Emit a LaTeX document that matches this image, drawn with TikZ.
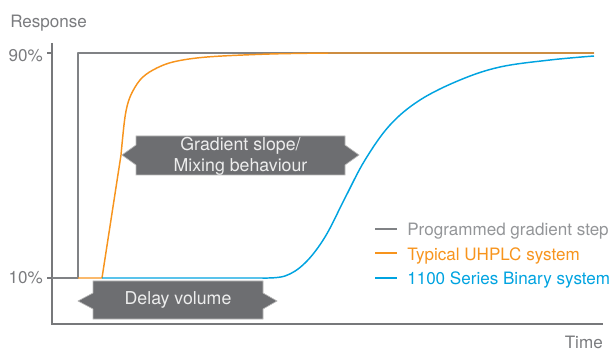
\documentclass[tikz,border=0pt]{standalone}
\usepackage{fontspec}
\setmainfont{TeX Gyre Heros}

\definecolor{axisgray}{HTML}{77787B}
\definecolor{stepgray}{HTML}{808285}
\definecolor{labelgray}{HTML}{7A7B7E}
\definecolor{leggray}{HTML}{939598}
\definecolor{uhplc}{HTML}{F7941D}
\definecolor{binary}{HTML}{00A3E0}
\definecolor{boxgray}{HTML}{6D6E71}
\definecolor{boxtext}{HTML}{EDEDED}

\tikzset{
  lbl/.style={inner sep=0pt, font=\fontsize{12.8}{15}\selectfont},
  boxlbl/.style={inner sep=0pt, align=center, text=boxtext,
    font=\fontsize{13.3}{15.5}\selectfont},
  arrowbox/.style={fill=boxgray, draw=gray!55, line width=0.5pt},
  curve/.style={line width=1.1pt, line join=round}
}

\begin{document}
\begin{tikzpicture}[x=0.75pt,y=-0.75pt]
\useasboundingbox (0,0) rectangle (613,352);

% axes
\draw[axisgray, line width=1.4pt] (52,43) -- (52,324) -- (603,324);
\draw[axisgray, line width=1.1pt] (47,53) -- (52,53);
\draw[axisgray, line width=1.1pt] (47,278) -- (52,278);

\node[lbl, text=labelgray, anchor=base west] (resp) at (10,28) {Response};
\node[lbl, text=labelgray, anchor=base east] (top) at (43,62) {90\%};
\node[lbl, text=labelgray, anchor=base east] (low) at (43,283) {10\%};
\node[lbl, text=labelgray, anchor=base east] (time) at (603,348) {Time};

% programmed step
\draw[stepgray, curve] (52,278) -- (78,278) -- (78,53) -- (594,53);

% typical UHPLC
\draw[uhplc, curve] (78,278) -- (102,278) -- (121,155)
  plot[smooth, tension=0.55] coordinates {(121,155) (125,117) (130,97)
  (140,80) (153,70) (173,62) (207,57) (270,54) (330,53)} -- (594,53);

% 1100 series binary
\draw[binary, curve] (102,278) -- (262,278)
  plot[smooth, tension=0.6] coordinates {(262,278) (285,276) (305,263)
  (325,237) (345,198) (365,160) (390,125) (420,100) (460,80) (500,67)
  (550,60) (594,56)};

% gradient slope box
\draw[arrowbox] (136,136) -- (345,136) -- (345,145) -- (359,155)
  -- (345,165) -- (345,175) -- (136,175) -- (136,165) -- (122,155)
  -- (136,145) -- cycle;
\node[boxlbl] (slope) at (240.5,156) {Gradient slope/\\Mixing behaviour};

% delay volume box
\draw[arrowbox] (93,281) -- (263,281) -- (263,293) -- (277,301)
  -- (263,309) -- (263,319) -- (93,319) -- (93,309) -- (78,301)
  -- (93,293) -- cycle;
\node[boxlbl] (delay) at (178,300) {Delay volume};

% legend
\draw[stepgray, line width=0.9pt] (375,229) -- (397,229);
\draw[uhplc, line width=0.9pt] (375,253) -- (397,253);
\draw[binary, line width=0.9pt] (375,278) -- (397,278);
\node[lbl, text=leggray, anchor=base west] (leg1) at (407,236) {Programmed gradient step};
\node[lbl, text=uhplc, anchor=base west] (leg2) at (407,261) {Typical UHPLC system};
\node[lbl, text=binary, anchor=base west] (leg3) at (407,285) {1100 Series Binary system};
\end{tikzpicture}
\end{document}
